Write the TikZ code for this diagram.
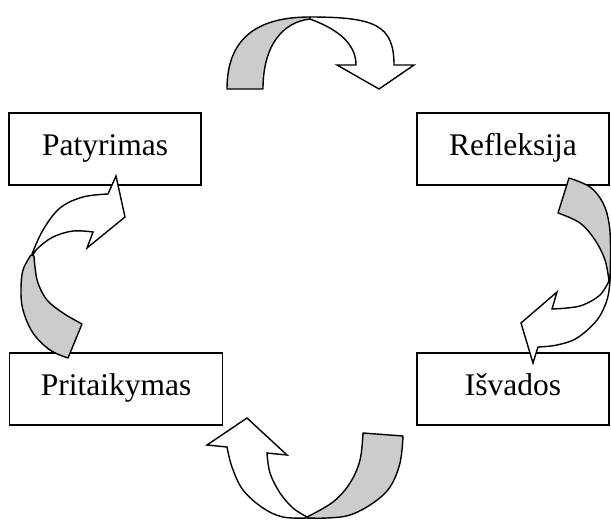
\documentclass[tikz,border=0pt]{standalone}
\usepackage{fontspec}
\setmainfont{Liberation Serif}
\definecolor{backband}{RGB}{204,204,204}
\tikzset{
  stage/.style={draw, line width=1.5pt, fill=white, rectangle, inner sep=0pt,
    font=\fontsize{31.5}{36}\selectfont, text height=22pt, text depth=9.5pt},
  band/.style={draw, line width=1.4pt, line join=round, fill=backband},
  front/.style={draw, line width=1.4pt, line join=miter, fill=white},
  curve/.style={smooth, tension=0.6},
}
\begin{document}
\begin{tikzpicture}[x=1pt, y=-1pt]
\useasboundingbox (0,0) rectangle (611,520);

% the four stages of the cycle
\node[stage, minimum width=192pt, minimum height=72pt] (patyrimas)   at (105,149) {Patyrimas};
\node[stage, minimum width=192pt, minimum height=72pt] (refleksija)  at (513,149) {Refleksija};
\node[stage, minimum width=213pt, minimum height=72pt] (pritaikymas) at (116,389) {Pritaikymas};
\node[stage, minimum width=192pt, minimum height=72pt] (isvados)     at (513,389) {Išvados};

% top curved arrow: Patyrimas -> Refleksija
\filldraw[band] (227,89) .. controls (227,40) and (255,17) .. (310,17)
  -- (310,19) .. controls (283,22) and (263,45) .. (263,89) -- cycle;
\filldraw[front] (310,17) .. controls (375,17) and (394,25) .. (394,65)
  -- (414,65) -- (379,89) -- (337,65) -- (356,65)
  .. controls (356,45) and (340,30) .. (310,19) -- cycle;

% right curved arrow: Refleksija -> Išvados
\filldraw[band] (569,178) -- (558,213)
  -- plot[curve] coordinates {(558,213) (580,223) (595,240) (605,260) (609,281)}
  -- plot[curve] coordinates {(610,281) (610.5,247) (609,223) (603,203) (590,187) (569,178)}
  -- cycle;
\filldraw[front] (609,281)
  -- plot[curve] coordinates {(609,281) (600,295) (583,305) (567,308) (552,309)}
  -- (557,292) -- (521,323) -- (533,363) -- (538,347)
  -- plot[curve] coordinates {(538,347) (557,345) (577,338) (597,320) (607,300) (610,281)}
  -- cycle;

% bottom curved arrow: Išvados -> Pritaikymas
\filldraw[band] (363,433) -- (403,436)
  -- plot[curve] coordinates {(403,436) (400,463) (390,487) (373,503) (350,515) (327,518) (307,518)}
  -- plot[curve] coordinates {(307,517) (333,502) (350,483) (360,460) (363,433)}
  -- cycle;
\filldraw[front] (307,518)
  -- plot[curve] coordinates {(307,518) (283,517) (263,508) (243,490) (232,467) (227,447)}
  -- (207,445) -- (247,418) -- (287,455) -- (267,453)
  -- plot[curve] coordinates {(267,453) (270,473) (280,493) (293,508) (307,517)}
  -- cycle;

% left curved arrow: Pritaikymas -> Patyrimas
\filldraw[band] (82,324) -- (68,358)
  -- plot[curve] coordinates {(68,358) (50,350) (33,333) (23,310) (21,290) (23,270) (31,255)}
  -- plot[curve] coordinates {(34,256) (35,267) (38,283) (47,300) (63,313) (82,324)}
  -- cycle;
\filldraw[front] (32,254)
  -- plot[curve] coordinates {(32,254) (43,230) (60,208) (83,197) (108,194)}
  -- (116,176) -- (125,217) -- (87,248) -- (93,232)
  -- plot[curve] coordinates {(93,232) (73,231) (53,237) (38,248) (33,255)}
  -- cycle;
\end{tikzpicture}
\end{document}
